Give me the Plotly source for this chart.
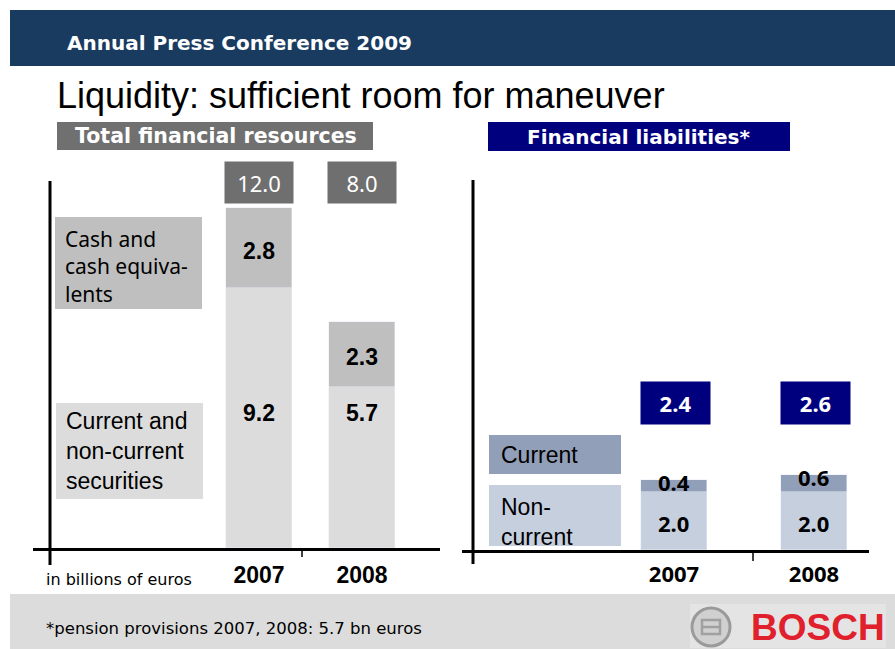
import plotly.graph_objects as go

# ---- data (billions of euros) ----
years = ["2007", "2008"]
securities = [9.2, 5.7]          # current and non-current securities
cash = [2.8, 2.3]                # cash and cash equivalents
liab_noncurrent = [2.0, 2.0]     # non-current financial liabilities
liab_current = [0.4, 0.6]        # current financial liabilities

W, H = 895, 649


def X(px):
    return px / W


def Y(py):
    return 1 - py / H


ARIAL = "Liberation Sans, Arial, sans-serif"
NARROW = "Liberation Sans Narrow, Liberation Sans, Arial, sans-serif"
NOTO = "Noto Sans, Open Sans, sans-serif"
DEJAVU = "DejaVu Sans, Verdana, sans-serif"

fig = go.Figure()

# ---- left chart: total financial resources ----
fig.add_trace(go.Bar(x=years, y=securities, marker_color="#dcdcdc", width=0.64,
                     xaxis="x", yaxis="y", hoverinfo="skip", showlegend=False))
fig.add_trace(go.Bar(x=years, y=cash, marker_color="#bfbfbf", width=0.64,
                     xaxis="x", yaxis="y", hoverinfo="skip", showlegend=False))

# ---- right chart: financial liabilities ----
fig.add_trace(go.Bar(x=years, y=liab_noncurrent, marker_color="#c6cfde", width=0.47,
                     xaxis="x2", yaxis="y2", hoverinfo="skip", showlegend=False))
fig.add_trace(go.Bar(x=years, y=liab_current, marker_color="#929fb8", width=0.47,
                     xaxis="x2", yaxis="y2", hoverinfo="skip", showlegend=False))

shapes = []
annotations = []


def rect(x0, y0, x1, y1, color, layer="below"):
    shapes.append(dict(type="rect", xref="paper", yref="paper",
                       x0=X(x0), x1=X(x1), y0=Y(y1), y1=Y(y0),
                       fillcolor=color, line=dict(width=0), layer=layer))


def line(x0, y0, x1, y1, width=3, color="black"):
    shapes.append(dict(type="line", xref="paper", yref="paper",
                       x0=X(x0), x1=X(x1), y0=Y(y0), y1=Y(y1),
                       line=dict(color=color, width=width), layer="above"))


def text(px, py, s, size, color="black", family=ARIAL, weight="normal",
         xanchor="left", align="left", yanchor="middle"):
    annotations.append(dict(xref="paper", yref="paper", x=X(px), y=Y(py), text=s,
                            showarrow=False, xanchor=xanchor, yanchor=yanchor,
                            align=align,
                            font=dict(size=size, color=color, family=family,
                                      weight=weight)))


# header band
rect(10, 10, 895, 66, "#1a3b60")
text(65, 43, "Annual Press Conference 2009", 20, "white", DEJAVU, "bold")
# title
text(55, 95, "Liquidity: sufficient room for maneuver", 36, "black", NARROW)

# section headers
rect(57, 122, 373, 150, "#707070")
text(216, 136, "Total financial resources", 20.5, "white", DEJAVU, "bold", "center")
rect(488, 122, 790, 151, "#00007f")
text(638, 137, "Financial liabilities*", 20, "white", DEJAVU, "bold", "center")

# left legend boxes
rect(55, 217, 202, 309, "#bfbfbf")
text(63, 266, "Cash and<br>cash equiva-<br>lents", 21, "black", NOTO)
rect(56, 403, 203, 499, "#dcdcdc")
text(64, 451, "Current and<br>non-current<br>securities", 23, "black", ARIAL)

# right legend boxes
rect(489, 435, 621, 474, "#929fb8")
text(499, 455, "Current", 23, "black", ARIAL)
rect(489, 485, 621, 546, "#c6cfde")
text(499, 522, "Non-<br>current", 23, "black", ARIAL)

# axis lines and separator ticks
line(50, 181, 50, 565)
line(302, 548, 302, 557, 1.5)
line(473, 180, 473, 564)
line(753, 550, 753, 561, 1.5)

# footer band and logo
rect(10, 594, 895, 649, "#dcdcdc")
rect(690, 604, 886, 648, "#e4e4e4")
text(44, 628, "*pension provisions 2007, 2008: 5.7 bn euros", 16.5, "black", DEJAVU)
text(44, 579, "in billions of euros", 16, "black", DEJAVU)
shapes.append(dict(type="circle", xref="paper", yref="paper",
                   x0=X(692), x1=X(730), y0=Y(646), y1=Y(608),
                   fillcolor="#d0d0d0", line=dict(color="#9a9a9a", width=3),
                   layer="above"))
shapes.append(dict(type="rect", xref="paper", yref="paper",
                   x0=X(702), x1=X(720), y0=Y(634), y1=Y(620),
                   fillcolor="rgba(0,0,0,0)", line=dict(color="#a0a0a0", width=2.5),
                   layer="above"))
line(702, 627, 720, 627, 2.5, "#a0a0a0")
text(818, 627, "BOSCH", 37, "#e0202c", ARIAL, "bold", "center")

# value labels, left chart (category index used as x position)
for i, (s, c) in enumerate(zip(securities, cash)):
    total = s + c
    annotations.append(dict(xref="x", yref="paper", x=i, y=Y(182.5),
                            yanchor="middle", text=f"{total:.1f}", showarrow=False,
                            width=66, height=39, bgcolor="#6f6f6f",
                            font=dict(size=22, color="white", family=NOTO)))
    annotations.append(dict(xref="x", yref="y", x=i, y=s + c / 2,
                            yanchor="middle", text=f"{c:.1f}", showarrow=False,
                            yshift=-3,
                            font=dict(size=23, color="black", family=ARIAL,
                                      weight="bold")))
    annotations.append(dict(xref="x", yref="paper", x=i, y=Y(413),
                            yanchor="middle", text=f"{s:.1f}", showarrow=False,
                            font=dict(size=23, color="black", family=ARIAL,
                                      weight="bold")))

# value labels, right chart
for i, (n, c) in enumerate(zip(liab_noncurrent, liab_current)):
    total = n + c
    annotations.append(dict(xref="x2", yref="paper", x=i, y=Y(403),
                            yanchor="middle", text=f"{total:.1f}", showarrow=False,
                            xshift=2, width=67, height=40, bgcolor="#00007f",
                            font=dict(size=22, color="white", family=NOTO,
                                      weight="bold")))
    annotations.append(dict(xref="x2", yref="y2", x=i, y=total,
                            yanchor="middle", text=f"{c:.1f}", showarrow=False,
                            yshift=-2,
                            font=dict(size=22, color="black", family=NOTO,
                                      weight="bold")))
    annotations.append(dict(xref="x2", yref="y2", x=i, y=n / 2,
                            yanchor="middle", text=f"{n:.1f}", showarrow=False,
                            yshift=-2,
                            font=dict(size=22, color="black", family=NOTO,
                                      weight="bold")))

fig.update_layout(
    width=W, height=H, autosize=False,
    margin=dict(l=0, r=0, t=0, b=0),
    paper_bgcolor="white", plot_bgcolor="rgba(0,0,0,0)",
    barmode="stack", bargap=0,
    shapes=shapes, annotations=annotations,
    xaxis=dict(domain=[X(33), X(440)], type="category", range=[-2.194, 1.757],
               showline=True, linecolor="black", linewidth=3, ticks="",
               showgrid=False, zeroline=False, fixedrange=True,
               tickfont=dict(size=23, family=ARIAL, color="black", weight="bold"),
               ticklabelstandoff=4, anchor="y"),
    yaxis=dict(domain=[Y(548), Y(160)], range=[0, 13.71], visible=False,
               fixedrange=True, anchor="x"),
    xaxis2=dict(domain=[X(462), X(869)], type="category", range=[-1.514, 1.393],
                showline=True, linecolor="black", linewidth=3, ticks="",
                showgrid=False, zeroline=False, fixedrange=True,
                tickfont=dict(size=22, family=NOTO, color="black", weight="bold"),
                ticklabelstandoff=3, anchor="y2"),
    yaxis2=dict(domain=[Y(550), Y(160)], range=[0, 13.45], visible=False,
                fixedrange=True, anchor="x2"),
)

fig.write_html("out.html", config={"displayModeBar": False})
